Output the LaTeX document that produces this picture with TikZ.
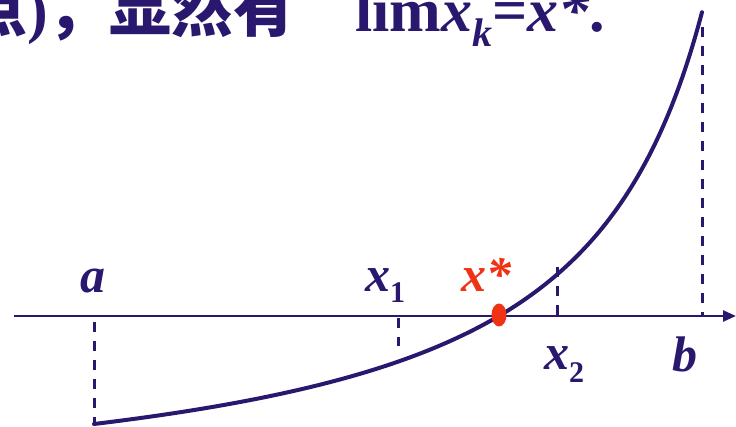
\documentclass[tikz,border=0pt]{standalone}
\usepackage{fontspec}
\setmainfont{Liberation Serif}
\newfontfamily\cjk{Noto Sans CJK SC}
\usetikzlibrary{arrows.meta,shapes.geometric}
\definecolor{navy}{RGB}{42,23,110}
\definecolor{hot}{RGB}{240,50,20}
\begin{document}
\begin{tikzpicture}[x=1pt,y=-1pt,
  lbl/.style={inner sep=0pt, text=navy, font=\fontsize{50}{60}\selectfont\bfseries\itshape},
  toptext/.style={inner sep=0pt, text=navy, font=\fontsize{62}{70}\selectfont\bfseries},
  guide/.style={navy, line width=3pt, dash pattern=on 10pt off 9pt},
  axisline/.style={navy, line width=2.6pt, -{Triangle[length=13pt,width=11pt]}},
  curveline/.style={navy, line width=4pt, line cap=round, line join=round}]
\useasboundingbox (0,0) rectangle (736,427);
\clip (0,0) rectangle (736,427);
% top text
\node[toptext, anchor=base east] (cn) at (296,32) {{\cjk 点}){\cjk ，显然有}};
\node[toptext, anchor=base west] (lim) at (355,32) {lim\textit{x}\raisebox{-15pt}{\fontsize{40}{40}\selectfont\itshape k}=\textit{x*}.};
% coordinates
\coordinate (ax0) at (14,316);
\coordinate (ax1) at (736,316);
\coordinate (pa) at (94,424);
\coordinate (pb) at (702,12);
\coordinate (ta) at (94,322);
\coordinate (tb) at (702,27);
\coordinate (bb) at (702,316);
\coordinate (t1) at (398,318);
\coordinate (p1) at (398,346);
\coordinate (t2) at (557,267);
\coordinate (b2) at (557,316);
% dashed guides
\draw[guide] (ta) -- (pa);
\draw[guide] (t1) -- (p1);
\draw[guide] (t2) -- (b2);
\draw[guide] (tb) -- (bb);
% axis
\draw[axisline] (ax0) -- (ax1);
% curve
\draw[curveline] plot[domain=94:702, samples=160] (\x, {424-89.4*(740/(834-\x)-1)});
% root
\node[fill=hot, ellipse, minimum width=15pt, minimum height=23pt, inner sep=0pt] (xs) at (499,315) {};
% labels
\node[lbl, anchor=base] (la) at (93,293) {a};
\node[lbl, anchor=base west] (lx1) at (365,292) {x\raisebox{-11pt}{\fontsize{30}{30}\selectfont\upshape 1}};
\node[lbl, anchor=base west, text=hot] (lxs) at (461,292) {x*};
\node[lbl, anchor=base west] (lx2) at (544,370) {x\raisebox{-13pt}{\fontsize{30}{30}\selectfont\upshape 2}};
\node[lbl, anchor=base] (lb) at (685,372) {b};
\end{tikzpicture}
\end{document}
